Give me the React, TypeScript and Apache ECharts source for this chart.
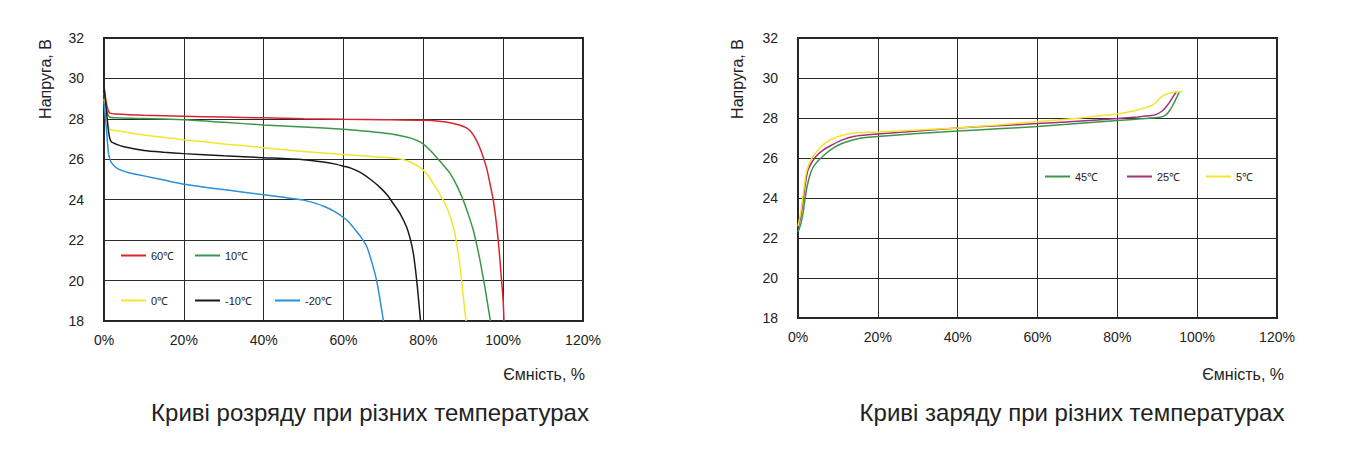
import React, { useEffect, useRef } from 'react';
import * as echarts from 'echarts';

const xTicks = [0, 20, 40, 60, 80, 100, 120];
const yMin = 18;
const yMax = 32;

// discharge curves: [capacity %, voltage V]
const dis60 = [[0, 29.6], [0.5, 28.9], [1, 28.45], [1.5, 28.28], [3, 28.24], [10, 28.18], [20, 28.13], [30, 28.09], [40, 28.05], [50, 28.01], [60, 27.98], [70, 27.96], [80, 27.93], [84, 27.88], [87, 27.8], [89, 27.7], [90.8, 27.55], [92, 27.35], [93.3, 26.94], [94.5, 26.4], [95.8, 25.6], [96.7, 24.8], [97.5, 24], [98.2, 23], [98.75, 22], [99.2, 21], [99.6, 20], [100, 19], [100.2, 18]];
const dis10 = [[0, 29.3], [0.5, 28.6], [1, 28.2], [1.5, 28.08], [3, 28.05], [10, 28.02], [20, 27.95], [30, 27.83], [40, 27.7], [50, 27.6], [60, 27.48], [65, 27.4], [70, 27.3], [74, 27.18], [76.7, 27.06], [78.5, 26.92], [80, 26.75], [81.7, 26.45], [83.3, 26.1], [85, 25.72], [86.7, 25.3], [88.4, 24.7], [90, 23.98], [91.3, 23.25], [92.5, 22.5], [93.4, 21.75], [94.2, 21], [94.8, 20.35], [95.4, 19.7], [96.1, 18.85], [96.8, 18]];
const dis0 = [[0, 29.0], [0.5, 28.2], [1, 27.7], [1.5, 27.48], [3, 27.42], [10, 27.2], [20, 26.97], [30, 26.76], [40, 26.57], [50, 26.38], [60, 26.24], [67, 26.14], [72, 26.07], [74.2, 26.02], [76.5, 25.88], [79.2, 25.6], [81, 25.25], [82.5, 24.8], [84.2, 24.25], [85.8, 23.65], [87, 23.0], [87.9, 22.33], [88.6, 21.5], [89.2, 20.68], [89.9, 19.4], [90.7, 18]];
const disM10 = [[0, 29.6], [0.4, 28.8], [0.8, 28.0], [1.2, 27.3], [1.7, 26.9], [3, 26.75], [5, 26.62], [10, 26.44], [15, 26.35], [20, 26.28], [30, 26.17], [40, 26.08], [50, 25.98], [55, 25.86], [58, 25.76], [60, 25.66], [62, 25.55], [64.2, 25.35], [66.8, 25.0], [69.2, 24.6], [71, 24.22], [72.5, 23.8], [74.2, 23.3], [75.8, 22.65], [76.8, 22.0], [77.5, 21.34], [78, 20.6], [78.5, 19.7], [78.9, 18.85], [79.3, 18]];
const disM20 = [[0, 28.8], [0.4, 28.0], [0.8, 27.0], [1.2, 26.2], [1.8, 25.85], [3.3, 25.55], [6, 25.35], [10, 25.18], [15, 24.97], [20, 24.77], [30, 24.5], [40, 24.25], [45, 24.12], [50, 23.98], [53, 23.82], [55, 23.68], [57.5, 23.45], [60, 23.12], [61.3, 22.9], [62.5, 22.62], [64.2, 22.2], [65.8, 21.7], [67.1, 20.9], [68.3, 20.0], [69.2, 19.0], [70, 18]];

// charge curves
const ch45 = [[0, 22.3], [0.7, 22.7], [1.3, 23.3], [1.8, 24.0], [2.3, 24.6], [3, 25.15], [3.8, 25.55], [5, 25.85], [6.3, 26.1], [8, 26.38], [9.7, 26.6], [12, 26.8], [14.7, 26.95], [17, 27.02], [20, 27.08], [30, 27.22], [40, 27.35], [50, 27.46], [60, 27.58], [70, 27.72], [80, 27.87], [86, 27.96], [90, 28.02], [91.5, 28.08], [92.5, 28.22], [93.2, 28.4], [93.8, 28.6], [94.4, 28.83], [95, 29.08], [95.5, 29.3]];
const ch25 = [[0, 22.5], [0.7, 23.1], [1.3, 23.9], [1.9, 24.8], [2.5, 25.4], [3.5, 25.8], [4.6, 26.1], [6.2, 26.38], [8, 26.6], [10.8, 26.88], [13.9, 27.08], [17, 27.15], [20, 27.2], [30, 27.35], [40, 27.5], [50, 27.61], [60, 27.72], [70, 27.84], [80, 27.97], [85, 28.05], [88.5, 28.12], [89.8, 28.18], [91.2, 28.35], [92.3, 28.58], [93.2, 28.82], [94, 29.08], [94.4, 29.2], [94.8, 29.3]];
const ch5 = [[0, 22.6], [0.7, 23.3], [1.3, 24.2], [2.1, 25.3], [3.2, 25.9], [4.6, 26.3], [6.2, 26.65], [8, 26.9], [10.5, 27.1], [14, 27.25], [17, 27.28], [20, 27.3], [30, 27.4], [40, 27.5], [50, 27.65], [60, 27.82], [65, 27.9], [70.7, 28.0], [75, 28.1], [80, 28.2], [84, 28.35], [87.3, 28.53], [88.7, 28.64], [89.8, 28.8], [90.7, 29.0], [91.5, 29.12], [92.7, 29.22], [94, 29.28], [95.2, 29.31], [96.3, 29.32]];

const disNames = ['60℃', '10℃', '0℃', '-10℃', '-20℃'];
const disColors = ['#d6262d', '#3b9748', '#f4e42a', '#1a1a1a', '#2b8fd9'];
const chNames = ['45℃', '25℃', '5℃'];
const chColors = ['#3b9748', '#a2317f', '#f4e42a'];

const FONT = '"Liberation Sans", Arial, sans-serif';

const App: React.FC = () => {
  const chartRef = useRef<HTMLDivElement>(null);

  useEffect(() => {
    document.body.style.margin = '0';
    if (!chartRef.current) return;
    const chart = echarts.init(chartRef.current, undefined, { renderer: 'svg' });

    const xAxis = (gridIndex: number) => ({
      type: 'value',
      gridIndex,
      min: xTicks[0],
      max: xTicks[xTicks.length - 1],
      interval: 20,
      axisLine: { show: false },
      axisTick: { show: false },
      axisLabel: { formatter: '{value}%', color: '#222', fontSize: 14, fontFamily: FONT, margin: 12 },
      splitLine: { lineStyle: { color: '#2a2a2a', width: 1 } },
    });
    const yAxis = (gridIndex: number) => ({
      type: 'value',
      gridIndex,
      min: yMin,
      max: yMax,
      interval: 2,
      axisLine: { show: false },
      axisTick: { show: false },
      axisLabel: { color: '#222', fontSize: 14, fontFamily: FONT, margin: 20 },
      splitLine: { lineStyle: { color: '#2a2a2a', width: 1 } },
    });

    const line = (name: string, data: number[][], color: string, idx: number) => ({
      name,
      type: 'line',
      xAxisIndex: idx,
      yAxisIndex: idx,
      data,
      smooth: 0.25,
      showSymbol: false,
      lineStyle: { color, width: 1.5 },
      itemStyle: { color },
    });

    const leg = (name: string, left: number, top: number) => ({
      data: [name],
      left,
      top,
      padding: 0,
      icon: 'rect',
      itemWidth: 25,
      itemHeight: 2,
      itemGap: 0,
      textStyle: { color: '#222', fontSize: 11, fontFamily: FONT },
    });

    const text = (t: string, x: number, y: number, size: number, rotation = 0, align = 'left') => ({
      type: 'text',
      x,
      y,
      rotation,
      style: { text: t, fill: '#222', fontSize: size, fontFamily: FONT, align, verticalAlign: 'middle' },
    });

    chart.setOption({
      animation: false,
      grid: [
        { left: 104, top: 38, width: 479, height: 283, show: true, borderColor: '#222', borderWidth: 2 },
        { left: 798, top: 38, width: 479, height: 280, show: true, borderColor: '#222', borderWidth: 2 },
      ],
      xAxis: [xAxis(0), xAxis(1)],
      yAxis: [yAxis(0), yAxis(1)],
      legend: [
        leg(disNames[0], 121, 250),
        leg(disNames[1], 195, 250),
        leg(disNames[2], 121, 295),
        leg(disNames[3], 195, 295),
        leg(disNames[4], 275, 295),
        leg(chNames[0], 1045, 171),
        leg(chNames[1], 1127, 171),
        leg(chNames[2], 1206, 171),
      ],
      series: [
        line(disNames[0], dis60, disColors[0], 0),
        line(disNames[1], dis10, disColors[1], 0),
        line(disNames[2], dis0, disColors[2], 0),
        line(disNames[3], disM10, disColors[3], 0),
        line(disNames[4], disM20, disColors[4], 0),
        line(chNames[0], ch45, chColors[0], 1),
        line(chNames[1], ch25, chColors[1], 1),
        line(chNames[2], ch5, chColors[2], 1),
      ],
      graphic: [
        text('Напруга, В', 45, 79, 16, Math.PI / 2, 'center'),
        text('Напруга, В', 737, 79, 16, Math.PI / 2, 'center'),
        text('Ємність, %', 585, 374, 16, 0, 'right'),
        text('Ємність, %', 1284, 374, 16, 0, 'right'),
        text('Криві розряду при різних температурах', 370, 412, 24, 0, 'center'),
        text('Криві заряду при різних температурах', 1072, 412, 24, 0, 'center'),
      ],
    });

    return () => {
      chart.dispose();
    };
  }, []);

  return <div ref={chartRef} style={{ width: '1346px', height: '472px' }} />;
};

export default App;
